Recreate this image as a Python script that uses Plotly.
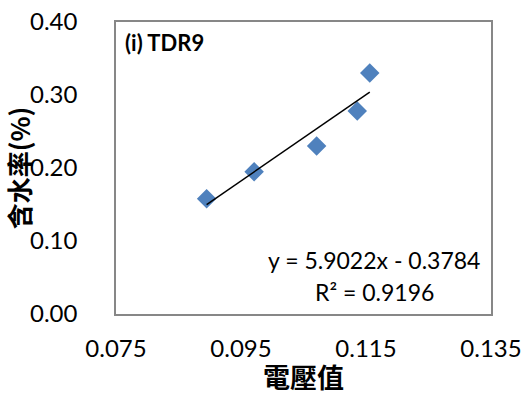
import plotly.graph_objects as go

# Voltage readings and measured water content for sensor TDR9
voltage = [0.0895, 0.0971, 0.1071, 0.1136, 0.1156]
water_content = [0.158, 0.195, 0.230, 0.278, 0.330]

# Linear trendline coefficients
slope = 5.9022
intercept = -0.3784
r_squared = 0.9196

x_ticks = [0.075, 0.095, 0.115, 0.135]
y_ticks = [0.00, 0.10, 0.20, 0.30, 0.40]

line_x = [min(voltage), max(voltage)]
line_y = [slope * v + intercept for v in line_x]

fig = go.Figure()
fig.add_trace(go.Scatter(
    x=voltage, y=water_content, mode="markers",
    marker=dict(symbol="diamond", size=15, color="#4F81BD"),
    showlegend=False, hoverinfo="x+y",
))
fig.add_trace(go.Scatter(
    x=line_x, y=line_y, mode="lines",
    line=dict(color="black", width=1.5),
    showlegend=False, hoverinfo="skip",
))

tick_font = dict(family="Lato, 'Noto Sans', sans-serif", size=24, color="#000")
title_font = dict(family="'Noto Sans CJK TC', sans-serif", size=26, color="#000")
label_font = dict(family="Lato, sans-serif", size=23, color="#000")

fig.update_layout(
    width=524, height=396,
    margin=dict(l=116, r=33, t=22, b=82, autoexpand=False),
    paper_bgcolor="white", plot_bgcolor="white",
    xaxis=dict(
        range=[0.075, 0.135], tickvals=x_ticks,
        ticktext=[f"{v:.3f}" for v in x_ticks],
        showgrid=False, zeroline=False, automargin=False,
        showline=True, linecolor="#878787", linewidth=1.5, mirror=True,
        ticks="", tickfont=tick_font, ticklabelstandoff=12,
        title=dict(text="<b>電壓值</b>", font=dict(title_font, size=27), standoff=4),
    ),
    yaxis=dict(
        range=[0, 0.4], tickvals=y_ticks,
        ticktext=[f"{v:.2f}" for v in y_ticks],
        showgrid=False, zeroline=False, automargin=False,
        showline=True, linecolor="#878787", linewidth=1.5, mirror=True,
        ticks="", tickfont=tick_font, ticklabelstandoff=32,
        title=dict(text="<b>含水率(%)</b>", font=title_font, standoff=0),
    ),
    annotations=[
        dict(
            text="<b>(i) TDR9</b>", xref="paper", yref="paper",
            x=0.018, y=0.93, xanchor="left", yanchor="middle", showarrow=False,
            font=dict(family="Lato, sans-serif", size=22, color="#000"),
        ),
        dict(
            text=f"y = {slope}x - {abs(intercept)}",
            xref="paper", yref="paper", x=0.689, y=0.185,
            xanchor="center", yanchor="middle", showarrow=False,
            font=label_font,
        ),
        dict(
            text=f"R² = {r_squared}",
            xref="paper", yref="paper", x=0.689, y=0.075,
            xanchor="center", yanchor="middle", showarrow=False,
            font=label_font,
        ),
    ],
)

fig.write_html("out.html")
